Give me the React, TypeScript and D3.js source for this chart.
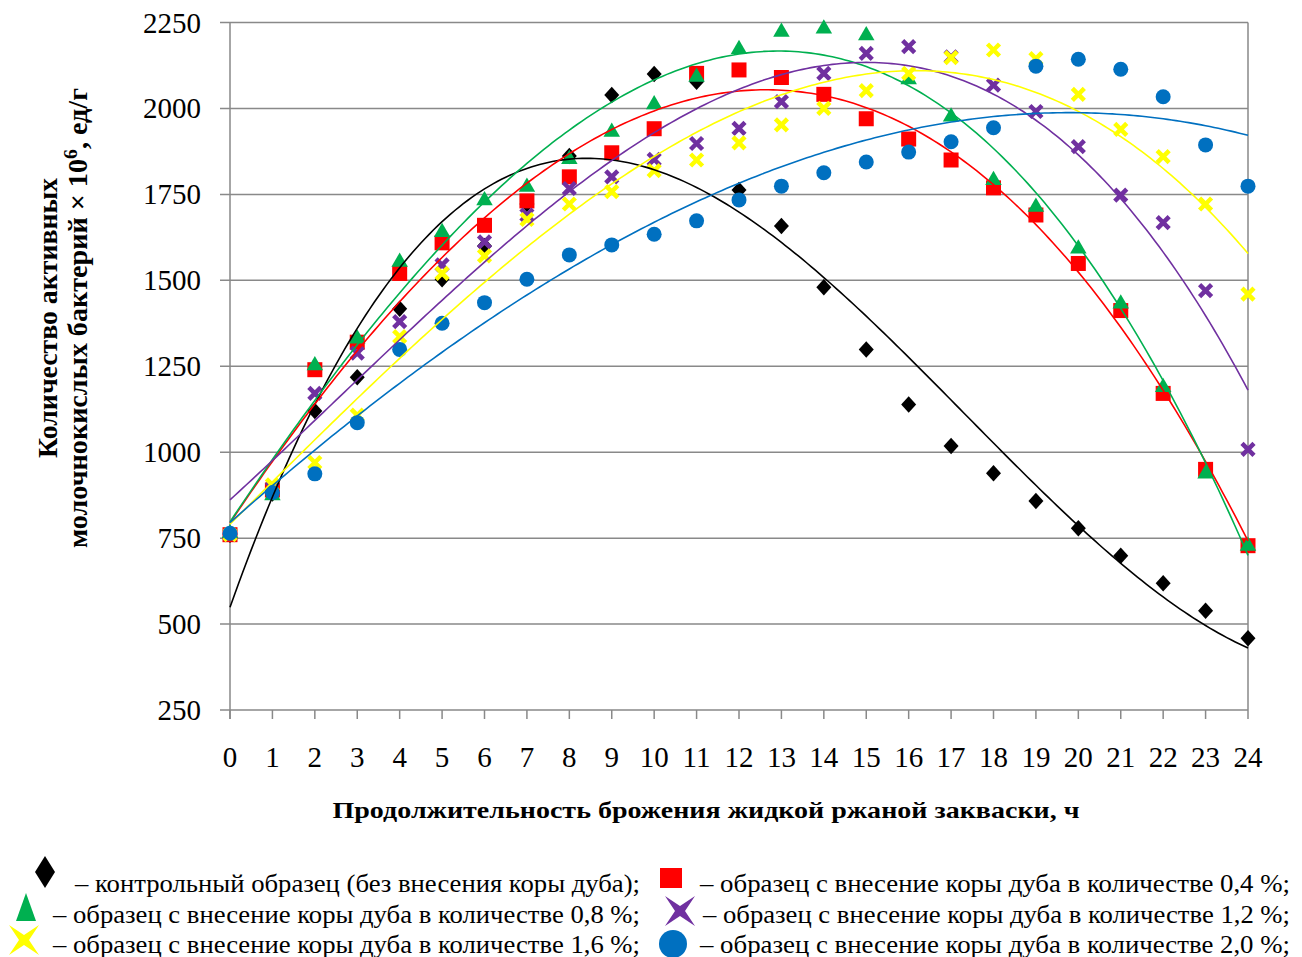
import { useEffect, useRef } from "react";
import * as d3 from "d3";

// hours of fermentation
const hours = [0, 1, 2, 3, 4, 5, 6, 7, 8, 9, 10, 11, 12, 13, 14, 15, 16, 17, 18, 19, 20, 21, 22, 23, 24];
const yTicks = [250, 500, 750, 1000, 1250, 1500, 1750, 2000, 2250];

// active lactic acid bacteria, x10^6 units/g
const control = [760, 880, 1120, 1218, 1417, 1503, 1600, 1722, 1862, 2039, 2100, 2078, 1763, 1658, 1480, 1299, 1139, 1018, 939, 858, 779, 699, 619, 539, 459];
const bark04 = [760, 890, 1240, 1320, 1520, 1609, 1660, 1731, 1801, 1871, 1941, 2102, 2112, 2090, 2041, 1970, 1911, 1850, 1769, 1690, 1549, 1412, 1171, 950, 728];
const bark08 = [770, 880, 1258, 1336, 1559, 1646, 1738, 1777, 1858, 1937, 2017, 2097, 2178, 2228, 2238, 2218, 2090, 1982, 1797, 1719, 1598, 1438, 1195, 943, 733];
const bark12 = [760, 895, 1171, 1288, 1380, 1545, 1612, 1690, 1767, 1801, 1852, 1898, 1942, 2020, 2102, 2160, 2180, 2150, 2068, 1991, 1889, 1748, 1668, 1470, 1008];
const bark16 = [760, 905, 970, 1108, 1336, 1520, 1571, 1677, 1722, 1758, 1819, 1850, 1900, 1952, 2000, 2052, 2102, 2148, 2170, 2145, 2041, 1939, 1860, 1722, 1460];
const bark20 = [764, 883, 937, 1086, 1299, 1375, 1435, 1503, 1574, 1603, 1634, 1673, 1734, 1774, 1813, 1844, 1873, 1903, 1944, 2123, 2143, 2114, 2034, 1894, 1774];

const legendLabels = [
  "– контрольный образец (без внесения коры дуба);",
  "– образец с внесение коры дуба в количестве 0,4 %;",
  "– образец с внесение коры дуба в количестве 0,8 %;",
  "– образец с внесение коры дуба в количестве 1,2 %;",
  "– образец с внесение коры дуба в количестве 1,6 %;",
  "– образец с внесение коры дуба в количестве 2,0 %;",
];

const series = [
  { values: control, color: "#000000", marker: "diamond" },
  { values: bark04, color: "#ff0000", marker: "square" },
  { values: bark08, color: "#00b050", marker: "triangle" },
  { values: bark12, color: "#7030a0", marker: "cross" },
  { values: bark16, color: "#ffff00", marker: "cross" },
  { values: bark20, color: "#0070c0", marker: "circle" },
];

// least squares polynomial (what Excel's trendline does)
function polyfit(xs: number[], ys: number[], deg: number) {
  const n = deg + 1;
  const A: number[][] = [];
  for (let i = 0; i < n; i++) {
    A.push([]);
    for (let j = 0; j < n; j++) A[i].push(d3.sum(xs, (x) => Math.pow(x, i + j)));
    A[i].push(d3.sum(xs, (x, k) => Math.pow(x, i) * ys[k]));
  }
  for (let c = 0; c < n; c++) {
    let p = c;
    for (let r = c + 1; r < n; r++) if (Math.abs(A[r][c]) > Math.abs(A[p][c])) p = r;
    [A[c], A[p]] = [A[p], A[c]];
    for (let r = 0; r < n; r++) {
      if (r === c) continue;
      const f = A[r][c] / A[c][c];
      for (let k = c; k <= n; k++) A[r][k] -= f * A[c][k];
    }
  }
  const coef = A.map((row, i) => row[n] / row[i]);
  return (x: number) => coef.reduce((s, a, i) => s + a * Math.pow(x, i), 0);
}

const App = () => {
  const ref = useRef<SVGSVGElement>(null);

  useEffect(() => {
    const width = 1302, height = 957;
    const left = 230, right = 1248, top = 22.5, bottom = 710;
    const grey = "#898989";

    const svg = d3.select(ref.current).html("").attr("width", width).attr("height", height);

    const x = d3.scaleLinear().domain([0, 24]).range([left, right]);
    const y = d3.scaleLinear().domain([250, 2250]).range([bottom, top]);

    // gridlines
    svg.append("g")
      .selectAll("line")
      .data(yTicks)
      .enter()
      .append("line")
      .attr("x1", left - 10)
      .attr("x2", right)
      .attr("y1", (d) => y(d))
      .attr("y2", (d) => y(d))
      .attr("stroke", grey)
      .attr("stroke-width", 1.5);

    // right border, left axis
    svg.append("line").attr("x1", right).attr("x2", right).attr("y1", top).attr("y2", bottom)
      .attr("stroke", grey).attr("stroke-width", 1.5);
    svg.append("line").attr("x1", left).attr("x2", left).attr("y1", top).attr("y2", bottom + 9)
      .attr("stroke", grey).attr("stroke-width", 1.5);

    // x ticks
    svg.append("g")
      .selectAll("line")
      .data(hours)
      .enter()
      .append("line")
      .attr("x1", (d) => x(d))
      .attr("x2", (d) => x(d))
      .attr("y1", bottom)
      .attr("y2", bottom + 9)
      .attr("stroke", grey)
      .attr("stroke-width", 1.5);

    const font = "'Liberation Serif', 'Times New Roman', serif";

    svg.append("g")
      .selectAll("text")
      .data(yTicks)
      .enter()
      .append("text")
      .attr("x", 201)
      .attr("y", (d) => y(d) + 10)
      .attr("text-anchor", "end")
      .style("font-family", font)
      .style("font-size", "29px")
      .text((d) => d);

    svg.append("g")
      .selectAll("text")
      .data(hours)
      .enter()
      .append("text")
      .attr("x", (d) => x(d))
      .attr("y", 767)
      .attr("text-anchor", "middle")
      .style("font-family", font)
      .style("font-size", "29px")
      .text((d) => d);

    // axis titles
    svg.append("text")
      .attr("x", 706)
      .attr("y", 818)
      .attr("text-anchor", "middle")
      .attr("textLength", 747)
      .attr("lengthAdjust", "spacingAndGlyphs")
      .style("font-family", font)
      .style("font-size", "23px")
      .style("font-weight", "bold")
      .text("Продолжительность брожения жидкой ржаной закваски, ч");

    const yt = svg.append("g").attr("transform", "translate(0,318) rotate(-90)")
      .style("font-family", font).style("font-weight", "bold").style("font-size", "27px");
    yt.append("text").attr("x", 0).attr("y", 57).attr("text-anchor", "middle")
      .attr("textLength", 280).attr("lengthAdjust", "spacingAndGlyphs")
      .text("Количество активных");
    const t2 = yt.append("text").attr("x", 0).attr("y", 87).attr("text-anchor", "middle")
      .attr("textLength", 460).attr("lengthAdjust", "spacingAndGlyphs");
    t2.append("tspan").text("молочнокислых бактерий × 10");
    t2.append("tspan").attr("dy", -10).style("font-size", "19px").text("6");
    t2.append("tspan").attr("dy", 10).text(", ед/г");

    const drawMarker = (g: any, kind: string, cx: number, cy: number, color: string, s: number) => {
      if (kind === "diamond") {
        g.append("path").attr("d", `M${cx},${cy - s * 0.55}L${cx + s * 0.5},${cy}L${cx},${cy + s * 0.55}L${cx - s * 0.5},${cy}Z`).attr("fill", color);
      } else if (kind === "square") {
        g.append("rect").attr("x", cx - s / 2).attr("y", cy - s / 2).attr("width", s).attr("height", s).attr("fill", color);
      } else if (kind === "triangle") {
        g.append("path").attr("d", `M${cx},${cy - s * 0.5}L${cx + s * 0.55},${cy + s * 0.45}L${cx - s * 0.55},${cy + s * 0.45}Z`).attr("fill", color);
      } else if (kind === "circle") {
        g.append("circle").attr("cx", cx).attr("cy", cy).attr("r", s / 2).attr("fill", color);
      } else {
        const h = s / 2 - 1.5;
        g.append("path").attr("d", `M${cx - h},${cy - h}L${cx + h},${cy + h}M${cx - h},${cy + h}L${cx + h},${cy - h}`)
          .attr("stroke", color).attr("stroke-width", s * 0.3).attr("fill", "none");
      }
    };

    // markers
    series.forEach((s) => {
      const g = svg.append("g");
      s.values.forEach((v, i) => drawMarker(g, s.marker, x(hours[i]), y(v), s.color, 15));
    });

    // polynomial trendlines
    const samples = d3.range(0, 24.0001, 0.1);
    series.forEach((s) => {
      const f = polyfit(hours, s.values, 3);
      const line = d3.line<number>().x((t) => x(t)).y((t) => y(f(t)));
      svg.append("path").attr("d", line(samples)).attr("fill", "none")
        .attr("stroke", s.color).attr("stroke-width", 1.6);
    });

    // legend (two columns, three rows)
    const legend = svg.append("g").style("font-family", font).style("font-size", "25px");
    const mk = [
      { x: 45, y: 872, tx: 75 },
      { x: 671, y: 878, tx: 700 },
      { x: 26, y: 907, tx: 53 },
      { x: 680, y: 911, tx: 703 },
      { x: 24, y: 940, tx: 53 },
      { x: 673, y: 944, tx: 700 },
    ];
    series.forEach((s, i) => {
      const p = mk[i];
      if (s.marker === "diamond") {
        legend.append("path").attr("d", `M${p.x},${p.y - 16}L${p.x + 10},${p.y}L${p.x},${p.y + 16}L${p.x - 10},${p.y}Z`).attr("fill", s.color);
      } else if (s.marker === "square") {
        legend.append("rect").attr("x", p.x - 11).attr("y", p.y - 10).attr("width", 22).attr("height", 20).attr("fill", s.color);
      } else if (s.marker === "triangle") {
        legend.append("path").attr("d", `M${p.x},${p.y - 14}L${p.x + 10},${p.y + 14}L${p.x - 10},${p.y + 14}Z`).attr("fill", s.color);
      } else if (s.marker === "circle") {
        legend.append("ellipse").attr("cx", p.x).attr("cy", p.y).attr("rx", 14).attr("ry", 14).attr("fill", s.color);
      } else {
        const a = 15, c = 5;
        legend.append("path")
          .attr("d", `M${p.x},${p.y - c}L${p.x + a},${p.y - a}L${p.x + c},${p.y}L${p.x + a},${p.y + a}L${p.x},${p.y + c}L${p.x - a},${p.y + a}L${p.x - c},${p.y}L${p.x - a},${p.y - a}Z`)
          .attr("fill", s.color);
      }
      legend.append("text")
        .attr("x", p.tx)
        .attr("y", [892, 892, 923, 923, 953, 953][i])
        .attr("textLength", 1290 - p.tx - (i % 2 === 0 ? 650 : 0))
        .attr("lengthAdjust", "spacingAndGlyphs")
        .text(legendLabels[i]);
    });
  }, []);

  return <svg ref={ref} style={{ position: "absolute", left: 0, top: 0, background: "#fff" }}></svg>;
};

export default App;
